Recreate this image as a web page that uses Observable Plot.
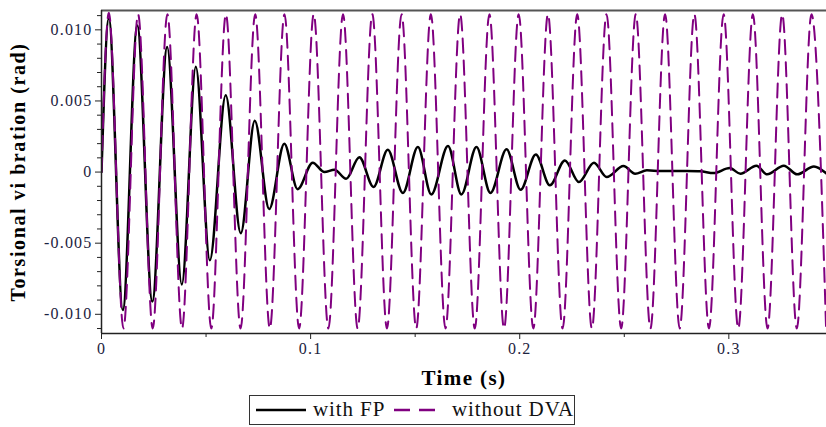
<!DOCTYPE html>
<html>
<head>
<meta charset="utf-8">
<script src="https://cdn.jsdelivr.net/npm/d3@7"></script>
<script src="https://cdn.jsdelivr.net/npm/@observablehq/plot@0.6"></script>
<style>
  body { margin: 0; background: #fff; }
  #wrap { position: relative; width: 826px; height: 427px; font-family: "Liberation Serif", "Times New Roman", serif; overflow: hidden; }
  #legend { position: absolute; left: 249px; top: 395px; width: 326px; height: 30px; border: 1.5px solid #333; box-sizing: border-box; background: #fff; }
  #legend .item { position: absolute; top: 0; height: 27px; line-height: 27px; font-size: 21px; color: #111; letter-spacing: 0.9px; white-space: nowrap; }
  #legend svg { position: absolute; top: 0; }
</style>
</head>
<body>
<div id="wrap">
  <div id="chart"></div>
  <div id="legend"></div>
</div>
<script>
// ---- data ----
const seriesNames = ["with FP", "without DVA"];
const seriesColors = ["#000000", "#800080"];

// "without DVA": extrema of the steady oscillation (time in s, angle in rad)
const noDvaTime = [0, 0.0035, 0.0105, 0.0175, 0.0245, 0.0315, 0.0385, 0.0455, 0.0525, 0.0595, 0.0665,
  0.0735, 0.0805, 0.0875, 0.0945, 0.1015, 0.1085, 0.1155, 0.1225, 0.1295, 0.1365,
  0.1435, 0.1505, 0.1575, 0.1645, 0.1715, 0.1785, 0.1855, 0.1925, 0.1995, 0.2065,
  0.2135, 0.2205, 0.2275, 0.2345, 0.2415, 0.2485, 0.2555, 0.2625, 0.2695, 0.2765,
  0.2835, 0.2905, 0.2975, 0.3045, 0.3115, 0.3185, 0.3255, 0.3325, 0.3395, 0.3465];
const noDvaValue = [0, 0.0112, -0.0110, 0.0111, -0.0110, 0.0111, -0.0110, 0.0111, -0.0110, 0.0111, -0.0110,
  0.0111, -0.0110, 0.0111, -0.0110, 0.0111, -0.0110, 0.0111, -0.0110, 0.0111, -0.0110,
  0.0111, -0.0110, 0.0111, -0.0110, 0.0111, -0.0110, 0.0111, -0.0110, 0.0111, -0.0110,
  0.0111, -0.0110, 0.0111, -0.0110, 0.0111, -0.0110, 0.0111, -0.0110, 0.0111, -0.0110,
  0.0111, -0.0110, 0.0111, -0.0110, 0.0111, -0.0110, 0.0111, -0.0110, 0.0111, -0.0110];

// "with FP": decaying response, read point by point
const fpTime = [0, 0.0035, 0.0102, 0.0171, 0.0243, 0.0314, 0.0384, 0.0451, 0.0518, 0.0594, 0.0666,
  0.0733, 0.0802, 0.0874, 0.0938, 0.1010, 0.1066, 0.1114, 0.1170, 0.1233, 0.1301,
  0.1369, 0.1441, 0.1513, 0.1577, 0.1657, 0.1721, 0.1793, 0.1860, 0.1937, 0.2004,
  0.2077, 0.2144, 0.2216, 0.2283, 0.2355, 0.2416, 0.2496, 0.2552, 0.2608, 0.2672,
  0.2800, 0.2864, 0.2927, 0.3004, 0.3055, 0.3132, 0.3183, 0.3263, 0.3327, 0.3407, 0.3467];
const fpValue = [0, 0.0108, -0.0097, 0.0103, -0.0091, 0.0088, -0.0079, 0.0074, -0.0062, 0.0054, -0.0043,
  0.0036, -0.0026, 0.0020, -0.0012, 0.00066, 0.0000, 0.00017, -0.00047, 0.00105, -0.00105,
  0.00157, -0.00147, 0.00176, -0.00157, 0.00183, -0.00157, 0.00176, -0.00147, 0.00160, -0.00124,
  0.00124, -0.00093, 0.00082, -0.00070, 0.00066, -0.00035, 0.00042, -0.00012, 0.00012, 0.00008,
  0.00007, 0.00005, -0.00007, 0.00028, -0.00011, 0.00045, -0.00016, 0.00045, -0.00016, 0.00040, -0.00011];

const xDomain = [0, 0.3467];
const yDomain = [-0.01135, 0.01136];
const xTicks = [0, 0.1, 0.2, 0.3];
const xTickLabels = ["0", "0.1", "0.2", "0.3"];
const xMinorTicks = [0.05, 0.15, 0.25];
const yTicks = [-0.010, -0.005, 0, 0.005, 0.010];
const yTickLabels = ["-0.010", "-0.005", "0", "0.005", "0.010"];
const yMinorTicks = [-0.011, -0.009, -0.008, -0.007, -0.006, -0.004, -0.003, -0.002, -0.001,
  0.001, 0.002, 0.003, 0.004, 0.006, 0.007, 0.008, 0.009, 0.011];
const xTitle = "Time (s)";
const yTitle = "Torsional vi bration (rad)";

// ---- build table ----
const fpData = fpTime.map((t, i) => ({t, v: fpValue[i]}));
const noDvaData = noDvaTime.map((t, i) => ({t, v: noDvaValue[i]}));

const tickInk = "#1c2340";
const chart = Plot.plot({
  width: 826,
  height: 392,
  marginLeft: 101,
  marginRight: 0,
  marginTop: 10,
  marginBottom: 59,
  style: {fontFamily: "'Liberation Serif', 'Times New Roman', serif", fontSize: "16px", background: "white", overflow: "visible"},
  x: {domain: xDomain},
  y: {domain: yDomain},
  marks: [
    Plot.line(fpData, {x: "t", y: "v", stroke: seriesColors[0], strokeWidth: 2.5, curve: "monotone-x", clip: true}),
    Plot.line(noDvaData, {x: "t", y: "v", stroke: seriesColors[1], strokeWidth: 2, strokeDasharray: "14,8", curve: "monotone-x", clip: true}),
    Plot.ruleY([yDomain[1]], {stroke: "#555", strokeWidth: 2}),
    Plot.ruleX([xDomain[0]], {stroke: "#222", strokeWidth: 1.5}),
    Plot.ruleY([yDomain[0]], {stroke: "#222", strokeWidth: 1.5}),
    Plot.axisY(yTicks, {tickSize: 6, tickPadding: 3, stroke: "#222", fill: tickInk, fontSize: 16,
      tickFormat: d => yTickLabels[yTicks.indexOf(d)], label: null}),
    Plot.axisY(yMinorTicks, {tickSize: 4, stroke: "#222", tickFormat: () => "", label: null}),
    Plot.axisX(xTicks, {tickSize: 6, tickPadding: 3, stroke: "#222", fill: tickInk, fontSize: 16,
      tickFormat: d => xTickLabels[xTicks.indexOf(d)], label: null}),
    Plot.axisX(xMinorTicks, {tickSize: 4, stroke: "#222", tickFormat: () => "", label: null}),
    Plot.text([xTitle], {frameAnchor: "bottom", lineAnchor: "middle", dy: 45, fontWeight: "bold", fontSize: 21, fill: "#000"}),
    Plot.text([yTitle], {frameAnchor: "left", textAnchor: "middle", lineAnchor: "middle", dx: -83, rotate: -90, fontWeight: "bold", fontSize: 20, fill: "#000"})
  ]
});
document.getElementById("chart").appendChild(chart);
const svg = d3.select(chart);
svg.selectAll("text").style("letter-spacing", "1.2px");
svg.selectAll("text").filter(function() { return this.textContent === yTitle; }).style("letter-spacing", "1.6px");
svg.selectAll("text").filter(function() { return this.textContent === xTitle; }).style("letter-spacing", "1.4px");

// ---- legend ----
const legend = document.getElementById("legend");
const legendPos = [{sx: 5, tx: 63}, {sx: 143, tx: 202}];
seriesNames.forEach((name, i) => {
  const s = document.createElementNS("http://www.w3.org/2000/svg", "svg");
  s.setAttribute("width", 52); s.setAttribute("height", 27);
  s.style.left = legendPos[i].sx + "px";
  const ln = document.createElementNS("http://www.w3.org/2000/svg", "line");
  ln.setAttribute("x1", 1); ln.setAttribute("x2", 51); ln.setAttribute("y1", 14); ln.setAttribute("y2", 14);
  ln.setAttribute("stroke", seriesColors[i]);
  ln.setAttribute("stroke-width", 2.5);
  if (i === 1) ln.setAttribute("stroke-dasharray", "16,9");
  s.appendChild(ln);
  legend.appendChild(s);
  const t = document.createElement("div");
  t.className = "item";
  t.style.left = legendPos[i].tx + "px";
  t.textContent = name;
  legend.appendChild(t);
});
</script>
</body>
</html>
